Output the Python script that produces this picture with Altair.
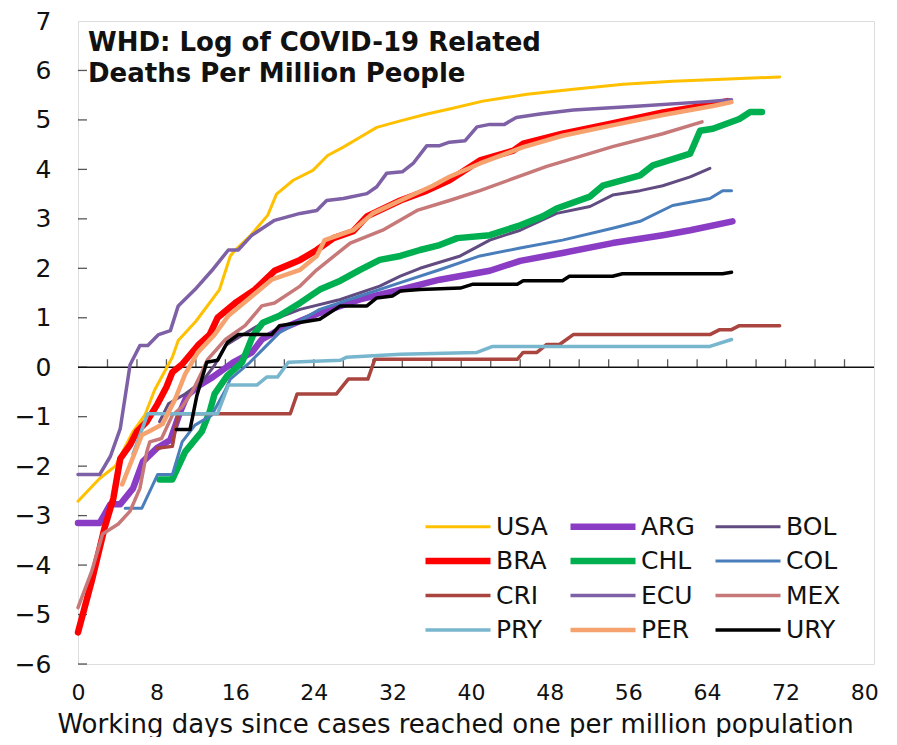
import altair as alt
import pandas as pd

# ---- data (x = working days, y = log deaths per million) ----
USA_x = [0, 2.2, 3.8, 5.6, 6.8, 7.8, 9.6, 10.2, 12, 14.4, 15.5, 16, 17.5, 19.3, 20.2, 21.9, 23.9, 25.4, 27, 28.7, 30.4, 32.8, 35.5, 37.8, 41.2, 45.7, 50.4, 55.5, 60.5, 65.6, 71.4]
USA_y = [-2.71, -2.25, -2.0, -1.3, -0.97, -0.46, 0.2, 0.54, 0.93, 1.57, 2.25, 2.37, 2.65, 3.07, 3.5, 3.78, 3.98, 4.28, 4.45, 4.65, 4.85, 4.98, 5.12, 5.22, 5.38, 5.52, 5.62, 5.72, 5.78, 5.82, 5.87]

ARG_x = [0, 2.2, 3.3, 4.3, 5.6, 6.6, 8, 9.4, 10.4, 11.1, 12.4, 13.7, 15.8, 17.7, 18.7, 20.5, 24.6, 28.7, 32.8, 36.8, 41.9, 45, 49.3, 54.4, 59.5, 62.3, 66.6]
ARG_y = [-3.15, -3.15, -2.77, -2.77, -2.45, -1.91, -1.64, -1.47, -0.9, -0.57, -0.36, -0.2, 0.1, 0.3, 0.56, 0.76, 1.1, 1.37, 1.57, 1.77, 1.95, 2.15, 2.31, 2.51, 2.67, 2.77, 2.95]

BOL_x = [8.3, 9.2, 10.9, 12.6, 13.9, 15, 18.3, 22.6, 26.7, 30.7, 32.8, 34.8, 38.9, 41.9, 45, 48.7, 52.1, 54.4, 57.2, 59.5, 62.3, 64.3]
BOL_y = [-1.1, -0.74, -0.54, -0.3, 0.04, 0.44, 0.84, 1.17, 1.37, 1.64, 1.84, 2.0, 2.25, 2.57, 2.77, 3.11, 3.25, 3.48, 3.57, 3.67, 3.85, 4.02]

BRA_x = [0, 1.4, 2.7, 3.6, 4.3, 5.3, 6, 7, 8.1, 9, 9.6, 10.6, 12.2, 13.4, 14.2, 16, 18, 20, 22.6, 24.3, 26, 28, 29.4, 32.8, 35.5, 37.8, 40.9, 44.3, 45.3, 49.3, 54.1, 59.5, 64.6, 66.1]
BRA_y = [-5.36, -4.32, -3.25, -2.65, -1.85, -1.57, -1.3, -1.1, -0.74, -0.4, -0.1, 0.06, 0.44, 0.66, 1.0, 1.3, 1.57, 1.95, 2.17, 2.37, 2.61, 2.75, 3.05, 3.37, 3.57, 3.78, 4.18, 4.38, 4.52, 4.72, 4.92, 5.15, 5.32, 5.38]

CHL_x = [8.3, 9.6, 10.9, 12.6, 13.4, 13.9, 15.2, 16.7, 17.8, 18.8, 20.5, 22.6, 24.6, 26.7, 28.7, 30.7, 32.8, 34.8, 36.8, 38.6, 41.9, 45, 47.3, 48.7, 52.1, 53.4, 57.2, 58.5, 62.3, 63.3, 64.6, 67.3, 68.4, 69.6]
CHL_y = [-2.27, -2.27, -1.71, -1.3, -0.9, -0.54, -0.17, 0.1, 0.64, 0.9, 1.04, 1.3, 1.57, 1.75, 1.97, 2.17, 2.25, 2.37, 2.47, 2.61, 2.67, 2.87, 3.05, 3.21, 3.45, 3.67, 3.88, 4.08, 4.32, 4.78, 4.82, 5.02, 5.16, 5.16]

COL_x = [4.8, 6.5, 8.1, 9.6, 10.6, 11.9, 13.6, 15, 15.5, 17.5, 18.5, 20.5, 24.6, 28.7, 32.8, 36.8, 40.9, 45, 49.3, 54.4, 57.2, 60.5, 64.3, 65.6, 66.5]
COL_y = [-2.85, -2.85, -2.17, -2.17, -1.51, -1.17, -0.97, -0.46, -0.24, 0.1, 0.3, 0.7, 1.17, 1.44, 1.71, 1.97, 2.25, 2.41, 2.57, 2.81, 2.95, 3.27, 3.41, 3.57, 3.57]

CRI_x = [8, 9.6, 10.2, 21.6, 22.3, 26.3, 27.5, 29.5, 30.2, 44.7, 45.3, 46.7, 47.7, 49, 50.4, 64.3, 65.3, 66.5, 67.3, 71.4]
CRI_y = [-1.64, -1.6, -0.94, -0.94, -0.54, -0.54, -0.24, -0.24, 0.16, 0.16, 0.3, 0.3, 0.46, 0.46, 0.66, 0.66, 0.76, 0.76, 0.84, 0.84]

ECU_x = [0, 2.2, 3.3, 4.3, 5.3, 6.3, 7.1, 8.2, 9.4, 10.2, 11.9, 13.6, 15.3, 16.3, 17.7, 20, 22.6, 24.3, 25.3, 27, 29.4, 30.4, 31.4, 33, 34.1, 35.5, 36.8, 37.8, 39.4, 40.6, 41.9, 43.4, 44.6, 47, 50.4, 57.2, 64, 66.5]
ECU_y = [-2.17, -2.17, -1.8, -1.24, 0.05, 0.44, 0.44, 0.66, 0.74, 1.24, 1.57, 1.95, 2.37, 2.37, 2.67, 2.97, 3.11, 3.17, 3.37, 3.41, 3.51, 3.65, 3.92, 3.95, 4.12, 4.48, 4.48, 4.55, 4.58, 4.86, 4.91, 4.91, 5.05, 5.12, 5.2, 5.28, 5.37, 5.41]

MEX_x = [0, 1.4, 2.5, 4.1, 5.3, 6.3, 7, 7.3, 8.5, 9.6, 10.6, 11.6, 12.6, 13.2, 15, 17, 18.7, 20, 22.6, 24.3, 27.7, 31, 34.5, 37.8, 40.9, 47.7, 54.4, 59.5, 63.5]
MEX_y = [-4.86, -4.12, -3.37, -3.17, -2.91, -2.45, -1.71, -1.51, -1.44, -0.97, -0.8, -0.5, -0.1, 0.16, 0.56, 0.84, 1.24, 1.3, 1.64, 1.97, 2.51, 2.77, 3.17, 3.37, 3.57, 4.06, 4.46, 4.72, 4.96]

PRY_x = [5.6, 7.1, 14.2, 15.3, 18.2, 19.2, 20.3, 21.4, 26.7, 27.3, 32.8, 40.6, 42.2, 64.3, 66.5]
PRY_y = [-1.75, -0.94, -0.94, -0.36, -0.36, -0.2, -0.2, 0.1, 0.14, 0.2, 0.26, 0.3, 0.42, 0.42, 0.56]

PER_x = [4.5, 6.5, 7.5, 8.6, 9.9, 10.9, 12.2, 13.9, 15.3, 17.3, 19.7, 22.6, 24.3, 25.1, 28, 30, 32.8, 36.1, 37.8, 40.9, 45.3, 49.3, 54.1, 59.5, 64.6, 66.5]
PER_y = [-2.37, -1.37, -1.27, -1.15, -0.64, -0.14, 0.3, 0.66, 1.04, 1.37, 1.77, 1.97, 2.25, 2.57, 2.77, 3.11, 3.37, 3.67, 3.85, 4.12, 4.45, 4.68, 4.88, 5.1, 5.28, 5.36]

URY_x = [10, 11.4, 12.1, 13.1, 14.2, 15.2, 16.3, 19.7, 20.5, 24.6, 26.7, 29.4, 30.4, 32, 32.8, 34.8, 38.9, 40.2, 44.7, 45.3, 49.3, 50, 54.4, 55.4, 65.6, 66.5]
URY_y = [-1.26, -1.26, -0.57, 0.1, 0.14, 0.5, 0.66, 0.66, 0.84, 0.97, 1.24, 1.24, 1.4, 1.44, 1.54, 1.57, 1.6, 1.68, 1.68, 1.75, 1.75, 1.84, 1.84, 1.89, 1.89, 1.92]

# drawing order of the series (later = on top)
countries = ["USA", "ARG", "BOL", "BRA", "CHL", "COL", "CRI", "ECU", "MEX", "PRY", "PER", "URY"]
colors = ["#FFC000", "#8B3CC4", "#614B80", "#FF0000", "#00B050", "#4A7EBB",
          "#A9443F", "#7D60A5", "#C77878", "#78B6CE", "#F6A26F", "#000000"]
widths = [3, 6.5, 3, 6.5, 6.5, 3, 3.5, 3.5, 3.5, 3.5, 4.5, 3.5]

# legend order (filled column by column, 4 rows x 3 columns)
legend_order = ["USA", "BRA", "CRI", "PRY", "ARG", "CHL", "ECU", "PER", "BOL", "COL", "MEX", "URY"]

series = {
    "USA": (USA_x, USA_y), "ARG": (ARG_x, ARG_y), "BOL": (BOL_x, BOL_y),
    "BRA": (BRA_x, BRA_y), "CHL": (CHL_x, CHL_y), "COL": (COL_x, COL_y),
    "CRI": (CRI_x, CRI_y), "ECU": (ECU_x, ECU_y), "MEX": (MEX_x, MEX_y),
    "PRY": (PRY_x, PRY_y), "PER": (PER_x, PER_y), "URY": (URY_x, URY_y),
}

x_label_values = list(range(0, 81, 4))
x_tick_values = list(range(3, 79, 3))
y_values = list(range(-6, 8))
y_tick_values = list(range(-6, 7))

title_lines = ["WHD: Log of COVID-19 Related", "Deaths Per Million People"]
x_title = "Working days since cases reached one per million population"

rows = []
for i, c in enumerate(countries):
    xs, ys = series[c]
    for j, (xv, yv) in enumerate(zip(xs, ys)):
        rows.append({"country": c, "day": xv, "value": yv, "k": i, "idx": j})
df = pd.DataFrame(rows)

col_of = dict(zip(countries, colors))
wid_of = dict(zip(countries, widths))
leg_colors = [col_of[c] for c in legend_order]
leg_widths = [wid_of[c] for c in legend_order]

FONT = "DejaVu Sans"
W, H = 796, 643

xscale = alt.Scale(domain=[0, 81], nice=False, zero=False)
yscale = alt.Scale(domain=[-6, 7], nice=False, zero=False)

legend_kw = dict(title=None, orient="none", legendX=344, legendY=493, columns=3,
                 symbolType="stroke", symbolSize=4225, labelFontSize=25, labelFont=FONT,
                 labelColor="#111", columnPadding=16, rowPadding=8.5, labelOffset=2,
                 clipHeight=25, gridAlign="all", padding=0)

lines = alt.Chart(df).mark_line(strokeCap="round", strokeJoin="round").encode(
    x=alt.X("day:Q", scale=xscale,
            axis=alt.Axis(values=x_label_values, title=x_title, grid=False, domain=False,
                          ticks=False, labelFontSize=22, labelFont=FONT, labelColor="#111",
                          labelPadding=18, labelFlush=False, titleFont=FONT, titleFontSize=26,
                          titleFontWeight="normal", titleColor="#111", titlePadding=8,
                          titleX=377)),
    y=alt.Y("value:Q", scale=yscale,
            axis=alt.Axis(values=y_values, title=None, grid=False, domain=False, ticks=False,
                          labelFontSize=25, labelFont=FONT, labelColor="#111", labelPadding=27,
                          labelFlush=False)),
    color=alt.Color("country:N", scale=alt.Scale(domain=legend_order, range=leg_colors),
                    legend=alt.Legend(**legend_kw)),
    strokeWidth=alt.StrokeWidth("country:N",
                                scale=alt.Scale(type="ordinal", domain=legend_order, range=leg_widths),
                                legend=alt.Legend(**legend_kw)),
    order=alt.Order("idx:Q"),
    detail="k:Q",
)

zero_df = pd.DataFrame({"v": [0]})
zero_line = alt.Chart(zero_df).mark_rule(color="#111", strokeWidth=1.5).encode(
    y=alt.Y("v:Q", scale=yscale))

xt = alt.Chart(pd.DataFrame({"t": x_tick_values})).mark_tick(
    orient="vertical", size=8, thickness=1.3, yOffset=-4, color="#111").encode(
    x=alt.X("t:Q", scale=xscale), y=alt.datum(0, scale=yscale))

yt = alt.Chart(pd.DataFrame({"t": y_tick_values})).mark_tick(
    orient="horizontal", size=9, thickness=1.3, xOffset=4.5, color="#111").encode(
    y=alt.Y("t:Q", scale=yscale), x=alt.datum(0, scale=xscale))

title = alt.Chart(pd.DataFrame({"a": [1]})).mark_text(
    align="left", baseline="alphabetic", font=FONT, fontSize=26, fontWeight="bold",
    color="#111", lineHeight=31).encode(
    x=alt.value(10), y=alt.value(30), text=alt.value(title_lines))

chart = alt.layer(zero_line, xt, yt, lines, title).properties(
    width=W, height=H,
    autosize=alt.AutoSizeParams(type="none"),
    padding={"left": 70, "top": 13, "right": 15, "bottom": 73},
).configure_view(stroke="#222", strokeWidth=2).configure(background="white")

chart.save("out.html", embed_options={"renderer": "svg", "actions": False})
